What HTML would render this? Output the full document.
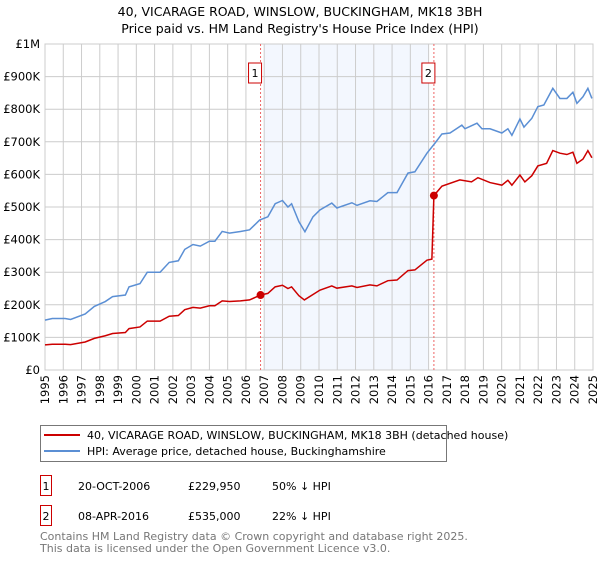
<!DOCTYPE html>
<html><head><meta charset="utf-8"><style>
body{margin:0;background:#fff;font-family:"Liberation Sans","DejaVu Sans",sans-serif}
svg text{font-family:"DejaVu Sans","Liberation Sans",sans-serif}
</style></head><body>
<svg id="c" width="600" height="560" xmlns="http://www.w3.org/2000/svg">
<text x="300" y="16" text-anchor="middle" font-size="12.5" fill="#000">40, VICARAGE ROAD, WINSLOW, BUCKINGHAM, MK18 3BH</text>
<text x="300" y="33" text-anchor="middle" font-size="12.5" fill="#000">Price paid vs. HM Land Registry's House Price Index (HPI)</text>
<g id="plot"></g>
<g>
<rect x="40.5" y="425.5" width="406" height="36" fill="#fff" stroke="#777"/>
<line x1="44" y1="435" x2="80" y2="435" stroke="#cc0000" stroke-width="2"/>
<text x="87" y="439" font-size="11">40, VICARAGE ROAD, WINSLOW, BUCKINGHAM, MK18 3BH (detached house)</text>
<line x1="44" y1="451" x2="80" y2="451" stroke="#5b8fd4" stroke-width="2"/>
<text x="87" y="455" font-size="11">HPI: Average price, detached house, Buckinghamshire</text>
</g>
<g>
<rect x="40.5" y="475.5" width="11" height="20" fill="#fff" stroke="#cc0000"/>
<text x="46" y="490" text-anchor="middle" font-size="11">1</text>
<text x="78" y="490" font-size="11">20-OCT-2006</text>
<text x="188" y="490" font-size="11">£229,950</text>
<text x="272" y="490" font-size="11">50% ↓ HPI</text>
<rect x="40.5" y="505.5" width="11" height="20" fill="#fff" stroke="#cc0000"/>
<text x="46" y="520" text-anchor="middle" font-size="11">2</text>
<text x="78" y="520" font-size="11">08-APR-2016</text>
<text x="188" y="520" font-size="11">£535,000</text>
<text x="272" y="520" font-size="11">22% ↓ HPI</text>
</g>
<text x="40" y="540" font-size="11" fill="#777">Contains HM Land Registry data © Crown copyright and database right 2025.</text>
<text x="40" y="552" font-size="11" fill="#777">This data is licensed under the Open Government Licence v3.0.</text>
</svg>
<script>
const hpiYears=[1995,1995.4,1996.1,1996.4,1997.2,1997.7,1998.3,1998.7,1999.4,1999.6,2000.2,2000.6,2001.3,2001.8,2002.3,2002.65,2003.1,2003.5,2004,2004.3,2004.7,2005.1,2005.7,2006.2,2006.75,2007.2,2007.6,2008,2008.3,2008.5,2008.9,2009.23,2009.67,2010.05,2010.7,2010.98,2011.8,2012.08,2012.79,2013.17,2013.77,2014.27,2014.87,2015.25,2015.91,2016.35,2016.73,2017.17,2017.82,2017.99,2018.65,2018.92,2019.36,2020.01,2020.34,2020.56,2021.0,2021.22,2021.65,2021.98,2022.31,2022.8,2023.19,2023.57,2023.9,2024.12,2024.45,2024.72,2024.94];
const hpiValues=[153,158,158,155,172,195,210,225,230,255,265,300,300,330,335,370,385,380,395,395,425,420,425,430,460,470,510,520,500,510,455,424,470,491,512,497,513,505,519,517,544,544,604,608,665,696,724,727,751,740,757,740,740,727,740,720,770,745,772,808,813,864,833,833,852,818,838,864,833];
const propYears=[1995,1995.4,1996.1,1996.4,1997.2,1997.7,1998.3,1998.7,1999.4,1999.6,2000.2,2000.6,2001.3,2001.8,2002.3,2002.65,2003.1,2003.5,2004,2004.3,2004.7,2005.1,2005.7,2006.2,2006.8,2007.2,2007.6,2008,2008.3,2008.5,2008.9,2009.2,2010.05,2010.7,2010.98,2011.8,2012.08,2012.79,2013.17,2013.77,2014.27,2014.87,2015.25,2015.91,2016.18,2016.29,2016.73,2017.71,2018.35,2018.7,2019.36,2020.01,2020.34,2020.56,2021.0,2021.27,2021.65,2021.98,2022.46,2022.8,2023.19,2023.57,2023.9,2024.12,2024.45,2024.72,2024.94];
const propValues=[77,79,79,78,86,97,105,112,115,127,132,150,150,165,167,185,192,190,197,197,212,210,212,215,230,235,255,260,250,255,228,215,245,258,251,258,253,261,258,274,276,305,307,337,340,535,564,583,577,590,575,567,582,567,598,577,596,626,634,673,665,661,668,634,647,673,651];
const saleYears=[2006.8,2016.29];
const saleValues=[229.95,535];
const saleLabels=["1","2"];
const yTicks=[0,100,200,300,400,500,600,700,800,900,1000];
const yTickLabels=["£0","£100K","£200K","£300K","£400K","£500K","£600K","£700K","£800K","£900K","£1M"];
const xTicks=[1995,1996,1997,1998,1999,2000,2001,2002,2003,2004,2005,2006,2007,2008,2009,2010,2011,2012,2013,2014,2015,2016,2017,2018,2019,2020,2021,2022,2023,2024,2025];

const L=45,R=593,T=44,B=370;
const xs=y=>L+(y-1995)/(2025-1995)*(R-L);
const ys=v=>B-v/1000*(B-T);
const NS="http://www.w3.org/2000/svg";
const g=document.getElementById('plot');
function mk(t,a){const e=document.createElementNS(NS,t);for(const k in a)e.setAttribute(k,a[k]);g.appendChild(e);return e;}

const sh=mk('rect',{x:xs(2007),y:T,width:xs(2016)-xs(2007),height:B-T,fill:'#eef3fd',opacity:0.7});


yTicks.forEach((v,i)=>{
  const l=mk('line',{x1:L,x2:R,y1:ys(v),y2:ys(v),stroke:'#ccc','stroke-width':1});
  
  
  const t=mk('text',{x:L-5,y:ys(v)+4,'text-anchor':'end','font-size':11.5});
  t.textContent=yTickLabels[i];
  
  
});
xTicks.forEach(y=>{
  const l=mk('line',{x1:xs(y),x2:xs(y),y1:T,y2:B,stroke:'#ccc','stroke-width':1});
  
  
  const t=mk('text',{x:0,y:0,'text-anchor':'end','font-size':11.5,transform:`translate(${xs(y)+4},${B+5}) rotate(-90)`});
  t.textContent=y;
  
  
});
const fr=mk('rect',{x:L,y:T,width:R-L,height:B-T,fill:'none',stroke:'#ccc'});


saleYears.forEach((y,i)=>{
  const l=mk('line',{x1:xs(y),x2:xs(y),y1:T,y2:B,stroke:'#e66','stroke-width':1,'stroke-dasharray':'2,2'});
  
  
  const bx=mk('rect',{x:xs(y)-12,y:63,width:13,height:20,fill:'#fff',stroke:'#cc0000'});
  
  
  const t=mk('text',{x:xs(y)-5.5,y:77,'text-anchor':'middle','font-size':11});
  t.textContent=saleLabels[i];
  
  
});
const hp=mk('polyline',{points:hpiYears.map((y,i)=>xs(y)+','+ys(hpiValues[i])).join(' '),fill:'none',stroke:'#5b8fd4','stroke-width':1.5});


const pp=mk('polyline',{points:propYears.map((y,i)=>xs(y)+','+ys(propValues[i])).join(' '),fill:'none',stroke:'#cc0000','stroke-width':1.5});


saleYears.forEach((y,i)=>{
  const c=mk('circle',{cx:xs(y),cy:ys(saleValues[i]),r:4,fill:'#cc0000'});
  
  
});
</script>
</body></html>
